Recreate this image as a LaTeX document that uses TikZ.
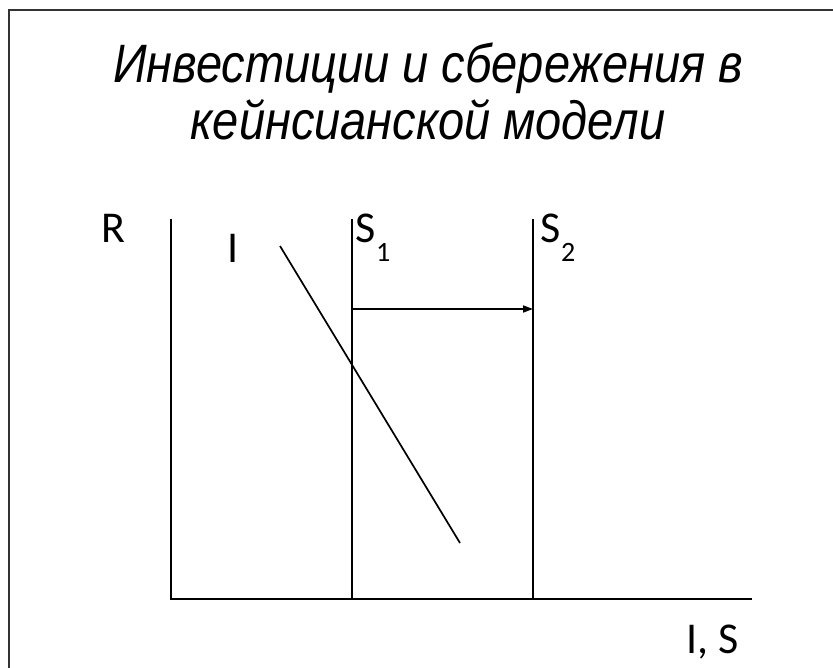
\documentclass[tikz,border=0pt]{standalone}
\usepackage{fontspec}
\setmainfont{Carlito}
\newfontfamily\titlefont{Liberation Sans}
\usetikzlibrary{arrows.meta}
\newcommand{\lowsub}[1]{\raisebox{-19pt}{\fontsize{28}{28}\selectfont #1}}
\newcommand{\tallttl}[1]{\scalebox{1}[1.15]{#1}}
\begin{document}
\begin{tikzpicture}[x=1pt,y=-1pt,line width=1.7pt,
  lbl/.style={inner sep=0pt,font=\fontsize{44}{50}\selectfont},
  ttl/.style={inner sep=0pt,anchor=base,font=\titlefont\itshape\fontsize{47}{50}\selectfont}]
\useasboundingbox (0,0) rectangle (833,668);
\draw[line width=2.2pt,draw=black!80] (9,668) -- (9,10) -- (833,10);
\node[ttl] (title1) at (428,83) {\tallttl{Инвестиции и сбережения в}};
\node[ttl] (title2) at (428,140) {\tallttl{кейнсианской модели}};
% axes
\coordinate (O) at (171,599);
\coordinate (ytop) at (171,219);
\coordinate (xend) at (752,599);
\draw (ytop) -- (O) -- (xend);
% S lines
\coordinate (s1t) at (352,219);
\coordinate (s1b) at (352,599);
\coordinate (s2t) at (533,219);
\coordinate (s2b) at (533,599);
\draw (s1t) -- (s1b);
\draw (s2t) -- (s2b);
% I line
\coordinate (it) at (280,246);
\coordinate (ib) at (460,543);
\draw (it) -- (ib);
% arrow
\coordinate (a1) at (352,309);
\coordinate (a2) at (533,309);
\draw[-{Triangle[length=10pt,width=7pt]}] (a1) -- (a2);
% labels
\node[lbl,anchor=base] (R) at (113,243) {R};
\node[lbl,anchor=base] (Ilbl) at (233,263) {I};
\node[lbl,anchor=base west] (S1) at (355,243) {S\lowsub{1}};
\node[lbl,anchor=base west] (S2) at (540,243) {S\lowsub{2}};
\node[lbl,anchor=base] (IS) at (713,653) {I, S};
\end{tikzpicture}
\end{document}
